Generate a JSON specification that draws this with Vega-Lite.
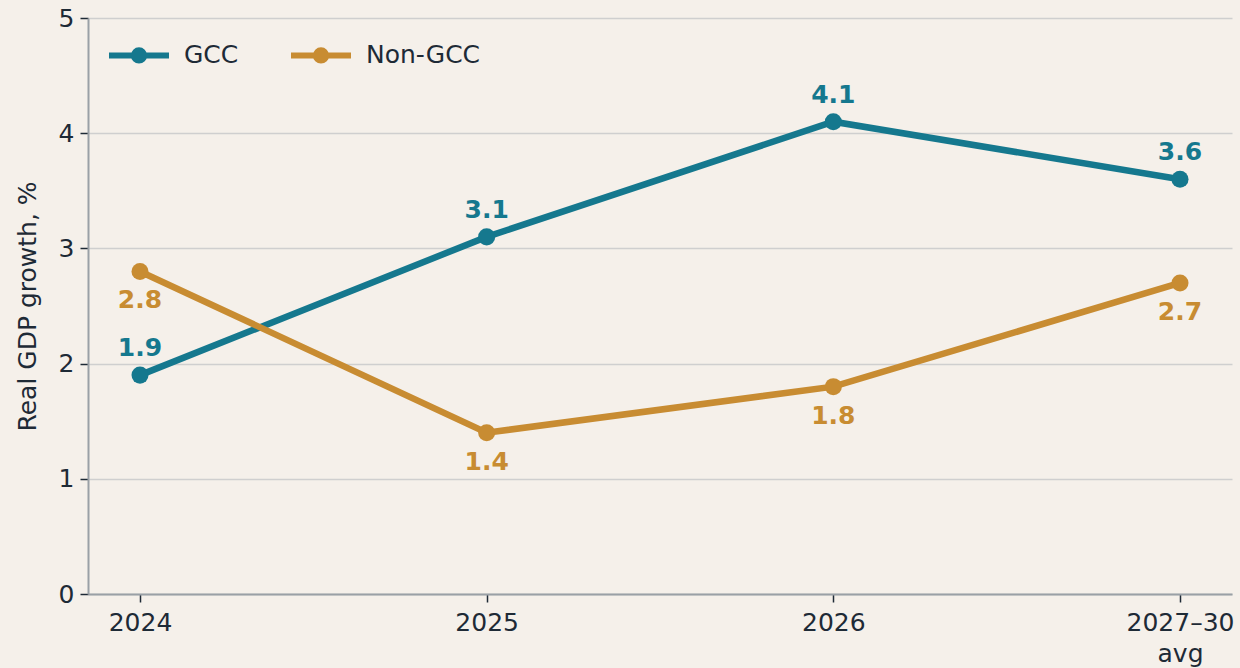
{
  "$schema": "https://vega.github.io/schema/vega-lite/v6.json",
  "width": 1144,
  "height": 576,
  "autosize": {"type": "none"},
  "padding": {"left": 88, "top": 18, "right": 8, "bottom": 74},
  "background": "#f5f0ea",
  "config": {
    "view": {"stroke": null},
    "font": "DejaVu Sans",
    "axis": {
      "labelFont": "DejaVu Sans",
      "titleFont": "DejaVu Sans",
      "labelFontSize": 25,
      "titleFontSize": 25,
      "titleFontWeight": "normal",
      "labelColor": "#1e2a36",
      "titleColor": "#1e2a36",
      "domainColor": "#9aa0a6",
      "domainWidth": 2,
      "tickColor": "#1e2a36",
      "tickWidth": 1.5,
      "tickSize": 8,
      "gridColor": "#cfcfcf",
      "gridWidth": 1.5
    },
    "legend": {
      "labelFont": "DejaVu Sans",
      "labelFontSize": 25,
      "labelColor": "#1e2a36"
    }
  },
  "data": {
    "values": [
      {"period": "2024", "series": "GCC", "value": 1.9},
      {"period": "2025", "series": "GCC", "value": 3.1},
      {"period": "2026", "series": "GCC", "value": 4.1},
      {"period": "2027–30 avg", "series": "GCC", "value": 3.6},
      {"period": "2024", "series": "Non-GCC", "value": 2.8},
      {"period": "2025", "series": "Non-GCC", "value": 1.4},
      {"period": "2026", "series": "Non-GCC", "value": 1.8},
      {"period": "2027–30 avg", "series": "Non-GCC", "value": 2.7}
    ]
  },
  "encoding": {
    "x": {
      "field": "period",
      "type": "ordinal",
      "sort": null,
      "scale": {"type": "point", "padding": 0.15},
      "axis": {
        "title": null,
        "labelAngle": 0,
        "grid": false,
        "labelPadding": 8,
        "labelLineHeight": 31,
        "labelExpr": "datum.label == '2027–30 avg' ? ['2027–30', 'avg'] : datum.label"
      }
    },
    "y": {
      "field": "value",
      "type": "quantitative",
      "scale": {"domain": [0, 5], "nice": false},
      "axis": {
        "title": "Real GDP growth, %",
        "values": [0, 1, 2, 3, 4, 5],
        "grid": true,
        "labelPadding": 6,
        "titlePadding": 18
      }
    },
    "color": {
      "field": "series",
      "type": "nominal",
      "scale": {"domain": ["GCC", "Non-GCC"], "range": ["#15788e", "#c88c32"]},
      "legend": {
        "title": null,
        "orient": "none",
        "legendX": 18,
        "legendY": 4,
        "direction": "horizontal",
        "symbolType": "M-1,0H1M-0.17,0A0.17,0.17 0 1,1 0.17,0A0.17,0.17 0 1,1 -0.17,0Z",
        "symbolSize": 3600,
        "symbolStrokeWidth": 6,
        "labelOffset": 12,
        "columnPadding": 40,
        "encode": {
          "symbols": {
            "update": {
              "fill": {"scale": "color", "field": "value"},
              "stroke": {"scale": "color", "field": "value"},
              "opacity": {"value": 1}
            }
          }
        }
      }
    }
  },
  "layer": [
    {
      "mark": {
        "type": "line",
        "strokeWidth": 6.5,
        "point": {"filled": true, "size": 290, "opacity": 1}
      }
    },
    {
      "transform": [{"filter": "datum.series == 'GCC'"}],
      "mark": {"type": "text", "fontWeight": "bold", "fontSize": 25, "dy": -27, "baseline": "middle"},
      "encoding": {"text": {"field": "value", "type": "quantitative", "format": ".1f"}}
    },
    {
      "transform": [{"filter": "datum.series == 'Non-GCC'"}],
      "mark": {"type": "text", "fontWeight": "bold", "fontSize": 25, "dy": 29, "baseline": "middle"},
      "encoding": {"text": {"field": "value", "type": "quantitative", "format": ".1f"}}
    }
  ]
}
